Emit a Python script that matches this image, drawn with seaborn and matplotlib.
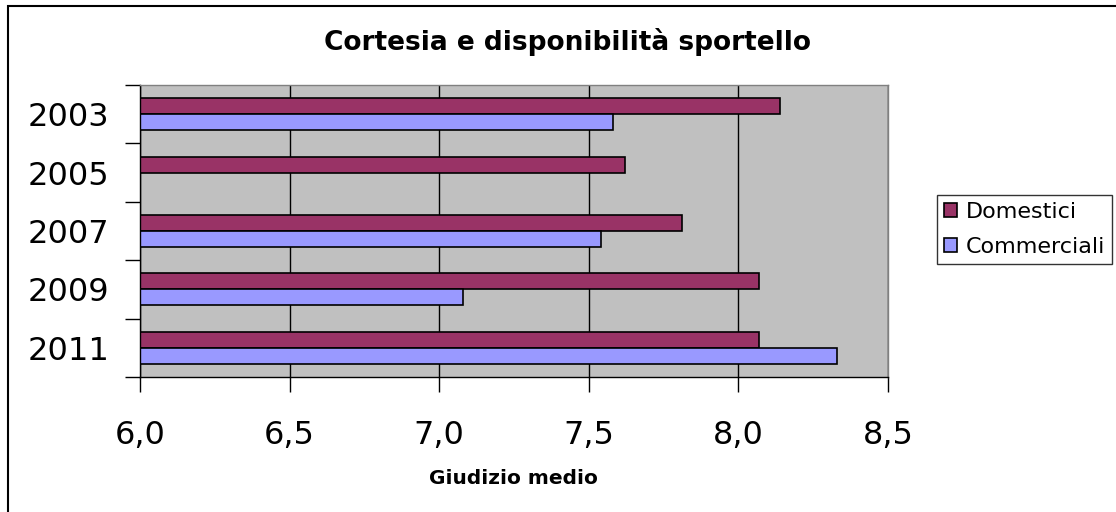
import numpy as np
import pandas as pd
import matplotlib
matplotlib.use("Agg")
import matplotlib.pyplot as plt
import matplotlib.patches as patches
import seaborn as sns

# values
years = ["2003", "2005", "2007", "2009", "2011"]
domestici = [8.14, 7.62, 7.81, 8.07, 8.07]
commerciali = [7.58, np.nan, 7.54, 7.08, 8.33]
x_ticks = [6.0, 6.5, 7.0, 7.5, 8.0, 8.5]
x_tick_labels = ["6,0", "6,5", "7,0", "7,5", "8,0", "8,5"]

df = pd.DataFrame({
    "anno": years * 2,
    "serie": ["Domestici"] * len(years) + ["Commerciali"] * len(years),
    "valore": domestici + commerciali,
})

sns.set_style("white")
plt.rcParams["font.family"] = ["DejaVu Sans"]
plt.rcParams["text.color"] = "black"
plt.rcParams["xtick.color"] = "black"
plt.rcParams["ytick.color"] = "black"

fig = plt.figure(figsize=(11.16, 5.12), dpi=100)
ax = fig.add_axes([140 / 1116, 1 - 377 / 512, 748 / 1116, 292 / 512])
ax.set_facecolor("#C0C0C0")

sns.barplot(data=df, x="valore", y="anno", hue="serie", order=years,
            hue_order=["Domestici", "Commerciali"],
            palette={"Domestici": "#993366", "Commerciali": "#9999FF"},
            saturation=1, orient="h", width=0.55, edgecolor="black", linewidth=1.2,
            ax=ax, legend=True)

ax.set_xlim(6.0, 8.5)
ax.set_ylim(4.5, -0.5)
ax.set_xticks(x_ticks)
ax.set_xticklabels(x_tick_labels, fontsize=23)
ax.set_yticks(range(len(years)))
ax.set_yticklabels(years, fontsize=23)
ax.set_yticks(np.arange(-0.5, len(years), 1.0), minor=True)
ax.tick_params(axis="y", which="major", length=0, pad=22)
ax.tick_params(axis="y", which="minor", length=11, width=1, direction="out", left=True)
ax.tick_params(axis="x", which="major", length=11, width=1, direction="out", pad=20, bottom=True)
ax.set_axisbelow(True)
ax.grid(axis="x", color="black", linewidth=1)
ax.grid(axis="y", visible=False)

for side in ["top", "right"]:
    ax.spines[side].set_color("#808080")
    ax.spines[side].set_linewidth(1)
for side in ["left", "bottom"]:
    ax.spines[side].set_color("black")
    ax.spines[side].set_linewidth(1)

ax.set_xlabel("")
ax.set_ylabel("")
fig.text(513 / 1116, 1 - 478 / 512, "Giudizio medio", ha="center", va="center",
         fontsize=14.5, fontweight="bold")
fig.text(567 / 1116, 1 - 42 / 512, "Cortesia e disponibilità sportello", ha="center",
         va="center", fontsize=19, fontweight="bold")

leg = ax.legend(loc="upper left", bbox_to_anchor=(937 / 1116, 1 - 195 / 512),
                bbox_transform=fig.transFigure, fontsize=16, frameon=True,
                fancybox=False, edgecolor="black", borderpad=0.3,
                handlelength=0.6, handleheight=0.6, handletextpad=0.4, labelspacing=0.7,
                borderaxespad=0)
leg.get_frame().set_linewidth(1)

# outer chart border (runs past right/bottom edges like the source)
fig.patches.append(patches.Rectangle((7.5 / 1116, -0.1), 1.2, 1 - 5.5 / 512 + 0.1,
                                     transform=fig.transFigure, fill=False,
                                     edgecolor="black", linewidth=1.5))

fig.savefig("out.png", dpi=100)
